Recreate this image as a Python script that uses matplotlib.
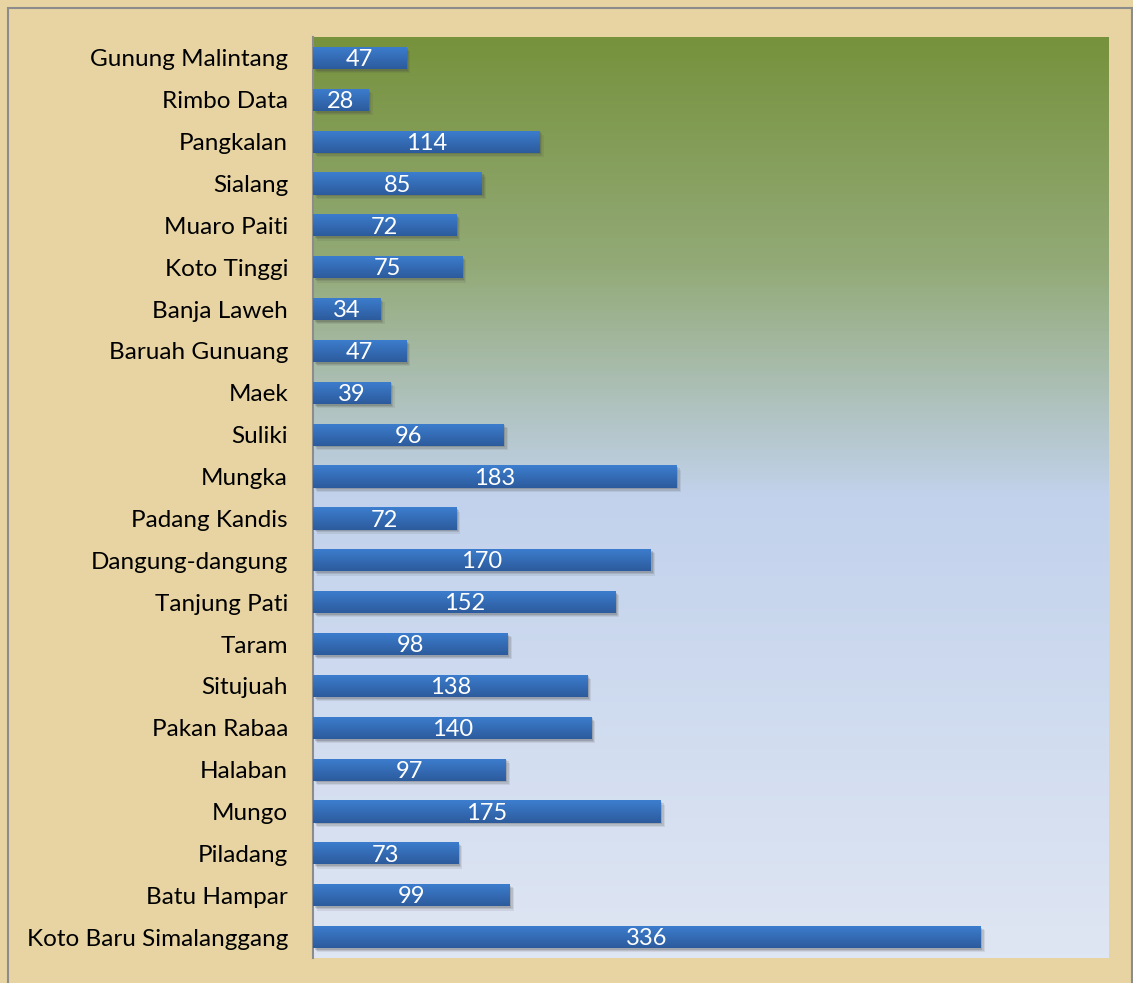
import numpy as np
import matplotlib
matplotlib.use('Agg')
import matplotlib.pyplot as plt
from matplotlib.colors import LinearSegmentedColormap
from matplotlib.patches import Rectangle

# Data (top to bottom as shown)
villages = ['Gunung Malintang', 'Rimbo Data', 'Pangkalan', 'Sialang', 'Muaro Paiti',
            'Koto Tinggi', 'Banja Laweh', 'Baruah Gunuang', 'Maek', 'Suliki', 'Mungka',
            'Padang Kandis', 'Dangung-dangung', 'Tanjung Pati', 'Taram', 'Situjuah',
            'Pakan Rabaa', 'Halaban', 'Mungo', 'Piladang', 'Batu Hampar',
            'Koto Baru Simalanggang']
counts = [47, 28, 114, 85, 72, 75, 34, 47, 39, 96, 183, 72, 170, 152, 98, 138,
          140, 97, 175, 73, 99, 336]

plt.rcParams['font.family'] = ['Lato', 'DejaVu Sans']

fig = plt.figure(figsize=(11.33, 9.83), dpi=100)
fig.patch.set_facecolor('#E7D4A2')
fig.patches.append(Rectangle((0.007, -0.01), 0.992, 1.002, transform=fig.transFigure,
                             fill=False, edgecolor='#8C8C8C', linewidth=1.5))

ax = fig.add_axes([0.2763, 0.0254, 0.7017, 0.937])
xmax = 400
n = len(villages)

# plot-area gradient: olive top -> light blue -> pale blue bottom
bg_cmap = LinearSegmentedColormap.from_list(
    'bg', [(0.0, '#76923C'), (0.25, '#93AA78'), (0.5, '#C2D2EC'), (1.0, '#DFE6F3')])
grad = np.linspace(0, 1, 256).reshape(-1, 1)
ax.imshow(grad, cmap=bg_cmap, aspect='auto', extent=(0, xmax, n - 0.5, -0.5),
          zorder=0)

y = np.arange(n)
h = 0.53

# soft shadow
for k, a in [(0.10, 0.10), (0.07, 0.15), (0.04, 0.2)]:
    ax.barh(y + k, counts, height=h, left=k * 20, color='#444444', alpha=a,
            linewidth=0, zorder=1)
bars = ax.barh(y, counts, height=h, color='#3572C0', zorder=2)

bar_cmap = LinearSegmentedColormap.from_list('bar', ['#3D7ED0', '#2C5B9C'])
for b in bars:
    x0, y0 = b.get_x(), b.get_y()
    w, hh = b.get_width(), b.get_height()
    im = ax.imshow(grad, cmap=bar_cmap, aspect='auto',
                   extent=(x0, x0 + w, y0 + hh, y0), zorder=3)
    im.set_clip_path(b)

for yi, v in zip(y, counts):
    ax.text(v / 2, yi + 0.04, str(v), color='white', ha='center', va='center',
            fontsize=17, zorder=4)

ax.set_yticks(y)
ax.set_yticklabels(villages, fontsize=17.5)
ax.tick_params(axis='y', length=0, pad=18)
ax.set_xticks([])
for s in ['top', 'right', 'bottom']:
    ax.spines[s].set_visible(False)
ax.spines['left'].set_color('#8C8C8C')
ax.spines['left'].set_linewidth(1.5)
ax.set_xlim(0, xmax)
ax.set_ylim(n - 0.5, -0.5)

fig.savefig('out.png', dpi=100, facecolor=fig.get_facecolor())
